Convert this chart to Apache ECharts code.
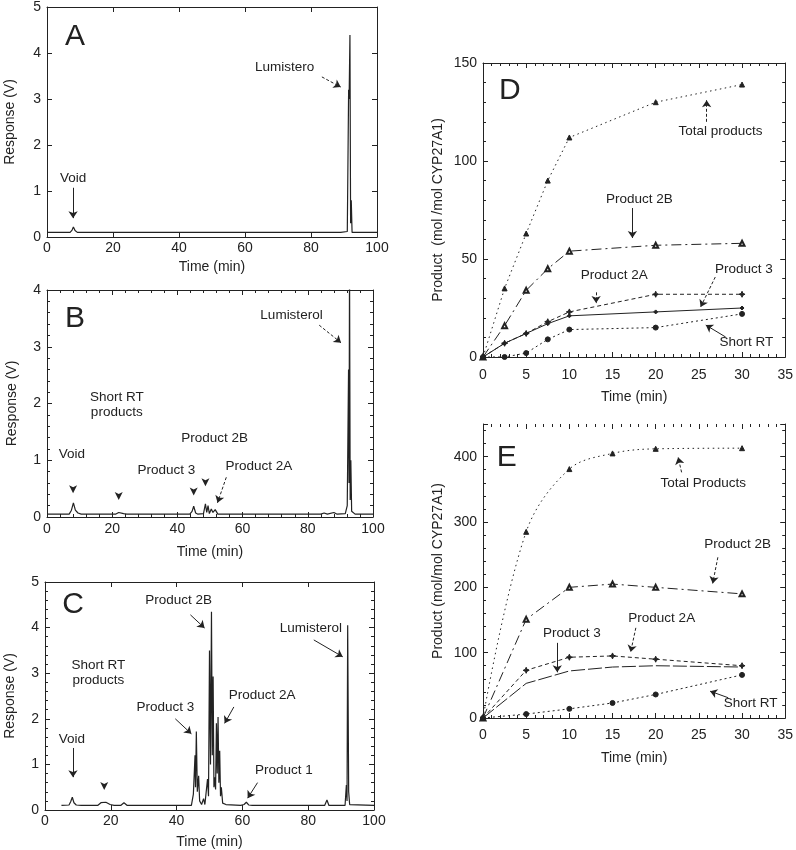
<!DOCTYPE html>
<html><head><meta charset="utf-8">
<script src="https://cdn.jsdelivr.net/npm/echarts@6/dist/echarts.min.js"></script>
<style>html,body{margin:0;padding:0;background:#fff}#c{width:796px;height:850px}</style>
</head><body><div id="c"></div>
<script>
// ---------- DATA ----------
// Chromatograms: [time (min), response (V)]
const chromA = [[0,0.1],[7,0.1],[7.6,0.15],[8,0.22],[8.5,0.14],[9.2,0.1],[10,0.1],[88,0.1],[88.5,0.13],[89,0.1],[91.0,0.12],[91.4,3.2],[91.55,3.0],[91.8,4.39],[92.0,0.3],[92.2,0.8],[92.45,0.1],[100,0.1]];
const chromB = [[0,0.05],[6.8,0.05],[7.5,0.12],[8.1,0.25],[8.7,0.12],[9.5,0.07],[10.5,0.05],[21,0.05],[22,0.08],[23.5,0.06],[24.5,0.05],[43.8,0.05],[44.5,0.1],[45,0.19],[45.6,0.07],[46.3,0.05],[48,0.06],[48.6,0.23],[49,0.08],[49.4,0.2],[49.8,0.06],[50.4,0.14],[50.9,0.08],[51.6,0.13],[52.4,0.05],[84,0.05],[85,0.07],[86,0.05],[88,0.08],[89,0.05],[91.5,0.06],[92.1,0.2],[92.5,2.6],[92.65,0.6],[92.8,4.5],[93.0,0.3],[93.2,1.0],[93.45,0.1],[94.5,0.05],[100,0.05]];
const chromC = [[5,0.1],[7.3,0.11],[7.8,0.18],[8.3,0.28],[8.8,0.16],[9.5,0.11],[11,0.1],[16,0.1],[17,0.16],[18.5,0.17],[19.8,0.12],[21,0.1],[23,0.1],[24,0.16],[25,0.1],[38,0.1],[38.6,0.13],[39.2,0.1],[44.5,0.1],[45.1,0.35],[45.6,1.2],[45.75,0.5],[46.0,1.72],[46.3,0.4],[46.7,0.75],[47.0,0.2],[47.6,0.12],[48.2,0.25],[48.6,0.12],[49.4,0.68],[49.7,0.3],[50.0,3.5],[50.3,1.0],[50.6,4.35],[50.85,1.2],[51.1,2.93],[51.35,0.5],[51.6,0.72],[51.85,0.45],[52.1,1.9],[52.35,0.8],[52.6,2.04],[52.85,0.6],[53.1,1.3],[53.35,0.3],[53.6,0.5],[54,0.15],[55,0.12],[59.5,0.1],[60.5,0.12],[61.2,0.17],[61.9,0.11],[63,0.1],[85,0.1],[85.7,0.22],[86.3,0.1],[91.2,0.1],[91.6,0.55],[91.8,0.2],[92.0,4.05],[92.3,0.4],[92.6,0.12],[100,0.1]];

// Panel D time course (mol/mol CYP27A1)
const timesD = [0, 2.5, 5, 7.5, 10, 20, 30];
const totalD = [0, 35, 63, 90, 112, 130, 139];
const p2bD   = [0, 16, 34, 45, 54, 57, 58];
const p2aD   = [0, 7, 12, 18, 23, 32, 32];
const p3D    = [0, 7, 12, 17, 21, 23, 25];
const shortD = [0, 0, 2, 9, 14, 15, 22];

// Panel E time course
const timesE = [0, 5, 10, 15, 20, 30];
const totalE = [0, 285, 381, 405, 412, 413];
const p2bE   = [0, 151, 200, 205, 200, 190];
const p2aE   = [0, 73, 93, 95, 90, 80];
const p3E    = [0, 53, 72, 78, 80, 78];
const shortE = [0, 6, 14, 23, 36, 66];

// ---------- STYLE / LAYOUT ----------
const INK = '#222';
const FONT = "'Liberation Sans', Arial, sans-serif";
const pair = (xs, ys) => xs.map((x, i) => [x, ys[i]]);

const panels = [
  {grid:{left:47,top:7,width:330,height:230}, x:{max:100,interval:20,minor:0,margin:4,nameGap:23}, y:{max:5,interval:1,minor:0,name:'Response (V)',nameGap:30}},
  {grid:{left:47,top:290,width:326,height:227}, x:{max:100,interval:20,minor:5,margin:5,nameGap:28}, y:{max:4,interval:1,minor:5,name:'Response (V)',nameGap:28}},
  {grid:{left:45,top:582,width:329,height:228}, x:{max:100,interval:20,minor:0,margin:4,nameGap:25}, y:{max:5,interval:1,minor:5,name:'Response (V)',nameGap:28}},
  {grid:{left:483,top:63,width:304,height:294}, x:{max:35,interval:5,minor:5,margin:11,nameGap:33}, y:{max:150,interval:50,minor:5,name:'Product  (mol /mol CYP27A1)',nameGap:38}},
  {grid:{left:483,top:424,width:305,height:294}, x:{max:35,interval:5,minor:5,margin:10,nameGap:33}, y:{max:450,interval:100,minor:5,name:'Product (mol/mol CYP27A1)',nameGap:38,fmt:true}, noTop:true}
];

const grids = [], xAxes = [], yAxes = [];
panels.forEach((p, i) => {
  grids.push(Object.assign({show:false}, p.grid));
  const common = {gridIndex:i, type:'value', min:0, splitLine:{show:false},
    axisLine:{show:true,onZero:false,lineStyle:{color:INK,width:1}},
    axisTick:{inside:true,length:5,lineStyle:{color:INK}}};
  xAxes.push(Object.assign({}, common, {position:'bottom', max:p.x.max, interval:p.x.interval,
    name:'Time (min)', nameLocation:'middle', nameGap:p.x.nameGap,
    nameTextStyle:{fontSize:14,color:INK,fontFamily:FONT},
    minorTick:{show:p.x.minor>0,splitNumber:p.x.minor||5,length:3,lineStyle:{color:INK}},
    axisLabel:{margin:p.x.margin,fontSize:14,color:INK,fontFamily:FONT}}));
  xAxes.push(Object.assign({}, common, {position:'top', max:p.x.max, interval:p.x.interval,
    axisLine:{show:!p.noTop,onZero:false,lineStyle:{color:INK,width:1}},
    minorTick:{show:p.x.minor>0,splitNumber:p.x.minor||5,length:3,lineStyle:{color:INK}},
    axisLabel:{show:false}}));
  yAxes.push(Object.assign({}, common, {position:'left', max:p.y.max, interval:p.y.interval,
    name:p.y.name, nameLocation:'middle', nameGap:p.y.nameGap,
    nameTextStyle:{fontSize:14,color:INK,fontFamily:FONT},
    minorTick:{show:p.y.minor>0,splitNumber:p.y.minor||5,length:3,lineStyle:{color:INK}},
    axisLabel:{margin:6,fontSize:14,color:INK,fontFamily:FONT,
      formatter: p.y.fmt ? (v => (v % 100 === 0 ? String(v) : '')) : null}}));
  yAxes.push(Object.assign({}, common, {position:'right', max:p.y.max, interval:p.y.interval,
    minorTick:{show:p.y.minor>0,splitNumber:p.y.minor||5,length:3,lineStyle:{color:INK}},
    axisLabel:{show:false}}));
});

// annotation helpers (data coordinates)
function txt(t, x, y, size) {
  return {name:t, coord:[x,y], symbol:'circle', symbolSize:1, itemStyle:{color:'rgba(0,0,0,0)'},
    label:{show:true, position:'inside', formatter:t, fontSize:size||13.5, color:INK, fontFamily:FONT, lineHeight:15}};
}
function vmark(x, y) {
  return {coord:[x,y], symbol:'arrow', symbolRotate:180, symbolSize:[6,8], itemStyle:{color:INK}, label:{show:false}};
}
function arr(x1, y1, x2, y2, dashed) {
  return [{coord:[x1,y1], lineStyle:{type: dashed ? [3,2] : 'solid', color:INK, width:1}}, {coord:[x2,y2]}];
}
function marks(texts, arrows) {
  return {
    markPoint:{silent:true, animation:false, data:texts},
    markLine:{silent:true, animation:false, symbol:['none','arrow'], symbolSize:7,
      label:{show:false}, lineStyle:{color:INK,width:1}, emphasis:{disabled:true}, data:arrows}
  };
}

const chromStyle = {type:'line', symbol:'none', clip:true, animation:false, silent:true,
  lineStyle:{color:INK,width:1.2}};

const series = [];
// Panel A
series.push(Object.assign({}, chromStyle, {xAxisIndex:0, yAxisIndex:0, data:chromA},
  marks([txt('A',8.5,4.35,30), txt('Void',7.9,1.28), txt('Lumistero',72,3.7)],
        [arr(7.9,1.07,7.9,0.41,false), arr(83.3,3.48,89,3.26,true)])));
// Panel B
series.push(Object.assign({}, chromStyle, {xAxisIndex:2, yAxisIndex:2, data:chromB},
  marks([txt('B',8.6,3.5,30), txt('Short RT\nproducts',21.4,1.97), txt('Product 2B',51.4,1.39),
         txt('Void',7.6,1.11), txt('Product 3',36.6,0.83), txt('Product 2A',65,0.9), txt('Lumisterol',75,3.56),
         vmark(8,0.42), vmark(22,0.3), vmark(45,0.38), vmark(48.6,0.54)],
        [arr(83.5,3.38,90.2,3.07,true), arr(55,0.7,52.3,0.25,true)])));
// Panel C
series.push(Object.assign({}, chromStyle, {xAxisIndex:4, yAxisIndex:4, data:chromC},
  marks([txt('C',8.5,4.5,30), txt('Short RT\nproducts',16.2,3.0), txt('Product 2B',40.6,4.6),
         txt('Lumisterol',80.8,3.99), txt('Product 2A',66,2.52), txt('Product 3',36.6,2.26),
         txt('Void',8.2,1.56), txt('Product 1',72.6,0.88), vmark(18,0.44)],
        [arr(44.2,4.28,48.5,3.99,false), arr(81.7,3.73,90.5,3.36,false), arr(57.4,2.26,54.6,1.9,false),
         arr(39.6,2.0,44.5,1.67,false), arr(8.5,1.36,8.5,0.72,false), arr(64.6,0.6,61.6,0.26,false)])));

function kin(xi, yi, data, sym, size, dash, smooth) {
  return {type:'line', xAxisIndex:xi, yAxisIndex:yi, data, symbol:sym, symbolSize:size, showSymbol:sym!=='none',
    smooth:smooth||false, animation:false, silent:true, clip:false,
    itemStyle:{color:INK, borderColor:INK}, lineStyle:{color:INK, width:1, type:dash}};
}
const star = 'path://M0,-10L3,-3L10,0L3,3L0,10L-3,3L-10,0L-3,-3Z';
// Panel D
series.push(Object.assign(kin(6,6,pair(timesD,totalD),'triangle',5,[1.5,3.5]),
  marks([txt('D',3.1,136,30), txt('Total products',27.5,115), txt('Product 2B',18.1,80.6),
         txt('Product 2A',15.2,41.8), txt('Product 3',30.2,45), txt('Short RT',30.5,7.7)],
        [arr(25.9,120,25.9,131,true), arr(17.3,76,17.3,60.7,false), arr(13.1,33,13.1,27.5,true),
         arr(26.9,40.8,25.2,25.5,true), arr(28.1,10.2,25.8,16.3,false)])));
series.push(kin(6,6,pair(timesD,p2bD),'emptyTriangle',5,[10,4,2,4]));
series.push(kin(6,6,pair(timesD,p2aD),star,6,[4,3]));
series.push(kin(6,6,pair(timesD,p3D),'diamond',4,'solid'));
series.push(kin(6,6,pair(timesD,shortD),'circle',5,[2,3]));
// Panel E
series.push(Object.assign(kin(8,8,pair(timesE,totalE),'triangle',5,[1.5,3.5],0.35),
  marks([txt('E',2.75,399,30), txt('Total Products',25.5,359), txt('Product 2B',29.5,266),
         txt('Product 2A',20.7,153), txt('Product 3',10.3,130), txt('Short RT',31,23)],
        [arr(23,376,22.6,399,true), arr(27.2,246,26.6,206,true), arr(17.7,138,17.1,101,true),
         arr(8.6,115,8.6,70,false), arr(28.4,31,26.3,41,false)])));
series.push(kin(8,8,pair(timesE,p2bE),'emptyTriangle',5,[10,4,2,4]));
series.push(kin(8,8,pair(timesE,p2aE),star,6,[4,3]));
series.push(kin(8,8,pair(timesE,p3E),'none',4,[14,3]));
series.push(kin(8,8,pair(timesE,shortE),'circle',5,[2,3]));

const chart = echarts.init(document.getElementById('c'), null, {renderer:'canvas'});
chart.setOption({
  animation:false,
  backgroundColor:'#fff',
  textStyle:{fontFamily:FONT},
  grid:grids, xAxis:xAxes, yAxis:yAxes, series
});
</script></body></html>
